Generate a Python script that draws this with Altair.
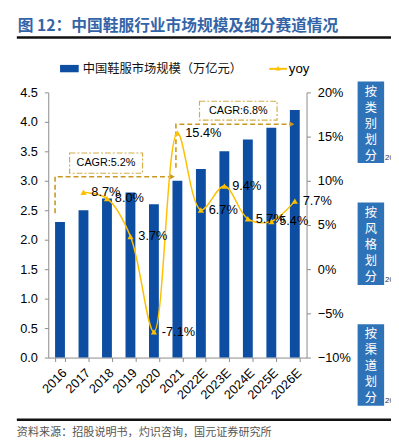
import altair as alt
import pandas as pd

# ---------------- data ----------------
years = ["2016", "2017", "2018", "2019", "2020", "2021",
         "2022E", "2023E", "2024E", "2025E", "2026E"]
market = [2.3, 2.5, 2.7, 2.8, 2.6, 3.0, 3.2, 3.5, 3.7, 3.9, 4.2]
yoy_years = ["2017", "2018", "2019", "2020", "2021",
             "2022E", "2023E", "2024E", "2025E", "2026E"]
yoy_pct = [8.7, 8.0, 3.7, -7.1, 15.4, 6.7, 9.4, 5.7, 5.4, 7.7]

left_ticks = [0, 0.5, 1.0, 1.5, 2.0, 2.5, 3.0, 3.5, 4.0, 4.5]
right_ticks = [-0.10, -0.05, 0.0, 0.05, 0.10, 0.15, 0.20]

# CAGR arrow paths (left-axis units)
arrow1_years = ["2016", "2016", "2021"]
arrow1_vals = [2.45, 3.07, 3.07]
arrow2_years = ["2021", "2021", "2026E"]
arrow2_vals = [3.22, 3.96, 3.96]

title_text = "图 12：中国鞋服行业市场规模及细分赛道情况"
legend_bar = "中国鞋服市场规模（万亿元）"
legend_line = "yoy"
cagr1 = "CAGR:5.2%"
cagr2 = "CAGR:6.8%"
panels = ["按\n类\n别\n划\n分", "按\n风\n格\n划\n分", "按\n渠\n道\n划\n分"]
source_text = "资料来源：招股说明书，灼识咨询，国元证券研究所"

# ---------------- styles ----------------
BAR = "#0D4EA2"
GOLD = "#FFC000"
ARROW = "#C8981E"
BOX = "#D2AE4A"
TITLE = "#3464A8"
PANEL = "#2E73B8"
NUM = "Liberation Sans"
CJK = "Noto Sans CJK SC"

W, H = 263, 270

bars_df = pd.DataFrame({"year": years, "market": market})
yoy_df = pd.DataFrame({"year": yoy_years, "yoy": [v / 100 for v in yoy_pct],
                       "label": [f"{v:.1f}%" for v in yoy_pct]})
a1 = pd.DataFrame({"year": arrow1_years, "market": arrow1_vals, "o": [0, 1, 2]})
a2 = pd.DataFrame({"year": arrow2_years, "market": arrow2_vals, "o": [0, 1, 2]})

xscale = alt.Scale(domain=years, paddingInner=0.58, paddingOuter=0.29)
yscale = alt.Scale(domain=[0, 4.5], nice=False)
yscale2 = alt.Scale(domain=[-0.10, 0.20], nice=False)

xaxis = alt.Axis(labelAngle=-45, labelFontSize=13, labelFont=NUM,
                 labelColor="black", domainColor="#8A8A8A",
                 tickColor="#8A8A8A", tickSize=4, tickBand="extent",
                 labelPadding=5, title="")
yaxis = alt.Axis(values=left_ticks, format=".1f", labelFontSize=13,
                 labelFont=NUM, labelColor="black", domainColor="#8A8A8A",
                 tickColor="#8A8A8A", tickSize=4, labelPadding=7, grid=False,
                 title="", labelOverlap=False)
yaxis2 = alt.Axis(orient="right", values=right_ticks, format=".0%",
                  labelFontSize=13, labelFont=NUM, labelColor="black",
                  domainColor="#8A8A8A", tickColor="#8A8A8A", tickSize=4,
                  labelPadding=7, grid=False, title="", labelOverlap=False)


def X(bp=0.5):
    return alt.X("year:N", scale=xscale, axis=xaxis, bandPosition=bp)


YL = alt.Y("market:Q", scale=yscale, axis=yaxis)
YR = alt.Y("yoy:Q", scale=yscale2, axis=yaxis2)

bars = alt.Chart(bars_df).mark_bar(color=BAR).encode(
    x=alt.X("year:N", scale=xscale, axis=xaxis), y=YL)

arrow1_line = alt.Chart(a1).mark_line(color=ARROW, strokeDash=[5, 3],
                                      strokeWidth=1.6).encode(
    x=X(0), y=YL, order="o:Q")
arrow1_head = alt.Chart(a1.iloc[[2]]).mark_point(
    shape="triangle-right", filled=True, color=ARROW, size=30,
    opacity=1).encode(x=X(0), y=YL)
arrow2_line = alt.Chart(a2).mark_line(color=ARROW, strokeDash=[5, 3],
                                      strokeWidth=1.6).encode(
    x=X(0.35), y=YL, order="o:Q")
arrow2_head = alt.Chart(a2.iloc[[2]]).mark_point(
    shape="triangle-right", filled=True, color=ARROW, size=30,
    opacity=1).encode(x=X(0.2), y=YL)

one = alt.InlineData(values=[{}])


def txt(s, x, y, size, color="black", font=CJK, weight="normal", align="left",
        lh=None):
    kw = dict(fontSize=size, color=color, font=font, fontWeight=weight,
              align=align, baseline="middle")
    if lh is not None:
        kw["lineBreak"] = "\n"
        kw["lineHeight"] = lh
        kw["baseline"] = "top"
    return alt.Chart(one).mark_text(**kw).encode(
        x=alt.value(x), y=alt.value(y), text=alt.value(s))


def rect(x, x2, y, y2, **kw):
    return alt.Chart(one).mark_rect(**kw).encode(
        x=alt.value(x), x2=alt.value(x2), y=alt.value(y), y2=alt.value(y2))


def hrule(x, x2, y, color, width, dash=None):
    kw = dict(color=color, strokeWidth=width)
    if dash:
        kw["strokeDash"] = dash
    return alt.Chart(one).mark_rule(**kw).encode(
        x=alt.value(x), x2=alt.value(x2), y=alt.value(y))


deco = [
    txt(title_text, -31, -68, 16, color=TITLE, weight="bold"),
    hrule(-32, 352, -56, "#111111", 2.5),
    rect(12, 31, -28, -20.5, color=BAR),
    txt(legend_bar, 35, -24, 12.5, color="#111111"),
    hrule(225, 243, -24, GOLD, 2),
    alt.Chart(one).mark_point(shape="triangle-up", filled=True, color=GOLD,
                              size=28, opacity=1).encode(
        x=alt.value(234), y=alt.value(-24.5)),
    txt(legend_line, 245, -24, 13.5, font=NUM),
    rect(21.7, 96, 61.7, 82.3, fill="white", stroke=BOX, strokeWidth=1.2,
         strokeDash=[6, 2, 2, 2]),
    txt(cagr1, 58.8, 72, 11, font=NUM, align="center"),
    rect(154, 233, 9, 28.3, fill="white", stroke=BOX, strokeWidth=1.2,
         strokeDash=[6, 2, 2, 2]),
    txt(cagr2, 193.5, 18.7, 11, font=NUM, align="center"),
    hrule(-32, 352, 333.3, "#111111", 2.5),
    txt(source_text, -32, 346.5, 11.3, color="#555555"),
]
panel_ys = [(-11, 72), (112, 196), (236, 319)]
for (y0, y1), s in zip(panel_ys, panels):
    deco.append(rect(315, 342, y0, y1, color=PANEL))
    deco.append(txt(s, 328.5, y0 + 4.5, 12.5, color="white",
                    align="center", lh=16.3))
    deco.append(txt("20", 343, y1 - 5, 8, color="#333333", font=NUM))

left = alt.layer(bars, arrow1_line, arrow1_head, arrow2_line, arrow2_head,
                 *deco)

line = alt.Chart(yoy_df).mark_line(color=GOLD, strokeWidth=1.5,
                                   interpolate="catmull-rom").encode(
    x=X(), y=YR)
pts = alt.Chart(yoy_df).mark_point(shape="triangle-up", filled=True,
                                   color=GOLD, size=40, opacity=1).encode(
    x=X(), y=YR)
labels = alt.Chart(yoy_df).mark_text(align="left", baseline="middle", dx=8,
                                     fontSize=13, font=NUM,
                                     color="black").encode(
    x=X(), y=YR, text="label:N")

right = alt.layer(line, pts, labels)

chart = alt.layer(left, right).resolve_scale(y="independent").properties(
    width=W, height=H,
    autosize=alt.AutoSizeParams(type="none"),
    padding={"left": 41, "top": 82, "right": 86, "bottom": 80},
    background="white",
).configure_view(strokeWidth=0)

chart.save("out.html", embed_options={"renderer": "svg", "actions": False})
